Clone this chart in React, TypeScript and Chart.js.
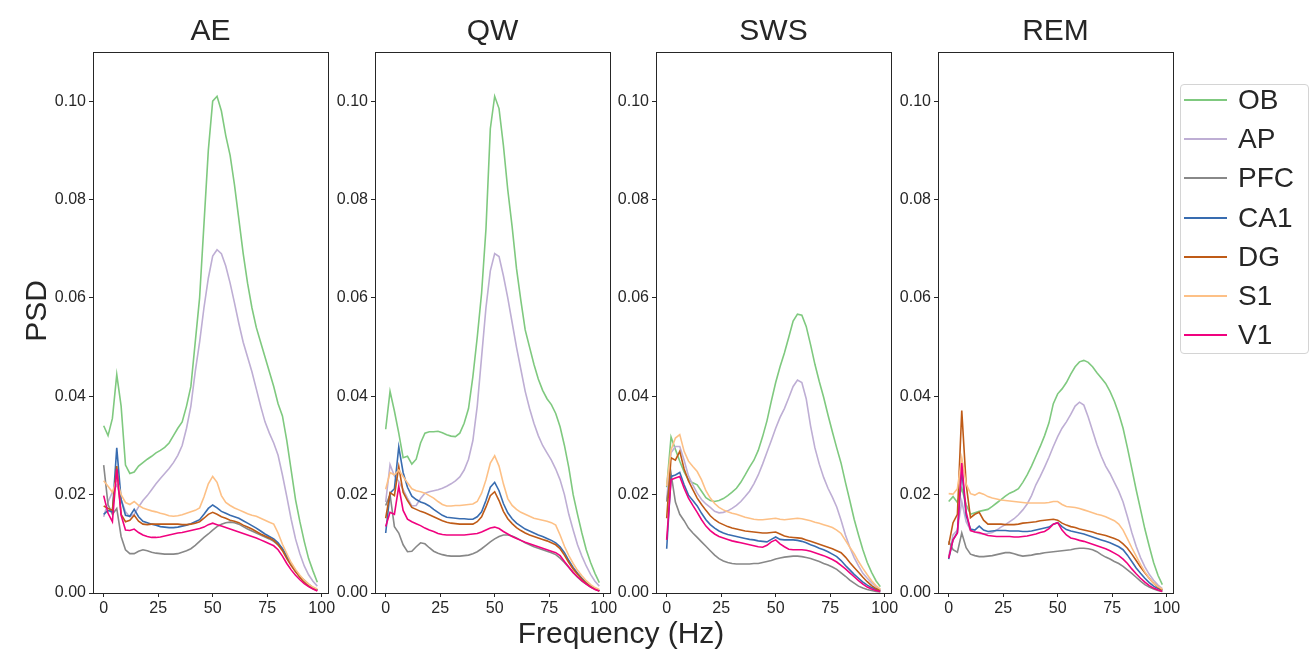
import React, { useEffect, useRef } from "react";
import { Chart, registerables } from "chart.js";

Chart.register(...registerables);

const FREQS = [0, 2, 4, 6, 8, 10, 12, 14, 16, 18, 20, 22, 24, 26, 28, 30, 32, 34, 36, 38, 40, 42, 44, 46, 48, 50, 52, 54, 56, 58, 60, 62, 64, 66, 68, 70, 72, 74, 76, 78, 80, 82, 84, 86, 88, 90, 92, 94, 96, 98];
const REGIONS = ["OB", "AP", "PFC", "CA1", "DG", "S1", "V1"];
const COLORS = ["#7fc97f", "#beaed4", "#888888", "#386cb0", "#bf5b17", "#fdc086", "#f0027f"];
const STATES = ["AE", "QW", "SWS", "REM"];
const X_TICKS = [0, 25, 50, 75, 100];
const Y_TICKS = [0, 0.02, 0.04, 0.06, 0.08, 0.1];

// ---- AE ----
const AE_OB = [0.034, 0.032, 0.0355, 0.0444, 0.038, 0.026, 0.0243, 0.0246, 0.0258, 0.0265, 0.0272, 0.0278, 0.0285, 0.029, 0.0296, 0.0305, 0.032, 0.0335, 0.0348, 0.038, 0.042, 0.051, 0.06, 0.075, 0.09, 0.1, 0.101, 0.098, 0.093, 0.089, 0.083, 0.076, 0.069, 0.063, 0.058, 0.054, 0.051, 0.048, 0.045, 0.042, 0.0385, 0.036, 0.031, 0.025, 0.019, 0.0145, 0.0105, 0.007, 0.0045, 0.0022];
const AE_AP = [0.0155, 0.0185, 0.0205, 0.022, 0.019, 0.0165, 0.0155, 0.016, 0.0175, 0.0188, 0.0198, 0.021, 0.0222, 0.0233, 0.0243, 0.0253, 0.0265, 0.028, 0.03, 0.0335, 0.038, 0.045, 0.051, 0.058, 0.064, 0.0685, 0.0698, 0.069, 0.0665, 0.063, 0.059, 0.0548, 0.051, 0.048, 0.045, 0.0415, 0.038, 0.0348, 0.0325, 0.0305, 0.028, 0.024, 0.0196, 0.015, 0.011, 0.008, 0.0055, 0.0037, 0.0024, 0.0014];
const AE_PFC = [0.026, 0.018, 0.016, 0.0172, 0.0115, 0.0088, 0.008, 0.008, 0.0085, 0.0088, 0.0086, 0.0083, 0.0081, 0.008, 0.0079, 0.0079, 0.0079, 0.008, 0.0083, 0.0086, 0.009, 0.0097, 0.0105, 0.0113, 0.012, 0.0128, 0.0135, 0.014, 0.0143, 0.0144, 0.0143, 0.014, 0.0135, 0.013, 0.0126, 0.0122, 0.0118, 0.0114, 0.011, 0.0105, 0.0098, 0.009, 0.0075, 0.0058, 0.0045, 0.0034, 0.0026, 0.0018, 0.0011, 0.0006];
const AE_CA1 = [0.016, 0.0168, 0.0165, 0.0295, 0.019, 0.0158, 0.0156, 0.017, 0.0155, 0.0146, 0.0143, 0.014, 0.0138, 0.0135, 0.0134, 0.0133, 0.0133, 0.0134, 0.0136, 0.0138, 0.0141, 0.0145, 0.0149, 0.016, 0.0172, 0.0179, 0.0173, 0.0166, 0.0162, 0.0158, 0.0155, 0.0152, 0.0147, 0.0142, 0.0137, 0.0132, 0.0126, 0.012, 0.0115, 0.011, 0.0102, 0.009, 0.0074, 0.006, 0.0045, 0.0033, 0.0023, 0.0015, 0.001, 0.0006];
const AE_DG = [0.0177, 0.0172, 0.0168, 0.0258, 0.016, 0.0145, 0.0148, 0.0158, 0.0146, 0.014, 0.0139, 0.014, 0.014, 0.014, 0.014, 0.014, 0.014, 0.014, 0.0139, 0.0139, 0.014, 0.0142, 0.0145, 0.0152, 0.016, 0.0164, 0.016, 0.0155, 0.0152, 0.0148, 0.0146, 0.0143, 0.0138, 0.0134, 0.013, 0.0125, 0.012, 0.0116, 0.0112, 0.0107, 0.0098, 0.0086, 0.007, 0.0056, 0.0043, 0.0032, 0.0022, 0.0014, 0.0009, 0.0005];
const AE_S1 = [0.0228, 0.0217, 0.0205, 0.0232, 0.02, 0.0184, 0.018, 0.0186, 0.0178, 0.0173, 0.017, 0.0167, 0.0165, 0.0162, 0.016, 0.0157, 0.0156, 0.0157, 0.0159, 0.0162, 0.0165, 0.0168, 0.0173, 0.0195, 0.0222, 0.0237, 0.0225, 0.0198, 0.0184, 0.0178, 0.0173, 0.0169, 0.0165, 0.0161, 0.0158, 0.0156, 0.0152, 0.0148, 0.0144, 0.014, 0.0122, 0.0099, 0.008, 0.0062, 0.0048, 0.0036, 0.0026, 0.0018, 0.0012, 0.0008];
const AE_V1 = [0.0198, 0.0162, 0.0145, 0.0252, 0.0158, 0.0128, 0.0127, 0.013, 0.0123, 0.0118, 0.0115, 0.0113, 0.0113, 0.0114, 0.0116, 0.0118, 0.012, 0.0122, 0.0123, 0.0125, 0.0127, 0.0129, 0.0131, 0.0134, 0.0139, 0.0142, 0.0139, 0.0136, 0.0133, 0.013, 0.0127, 0.0124, 0.0121, 0.0118, 0.0115, 0.0112, 0.0108, 0.0104, 0.01, 0.0096, 0.0088, 0.0075, 0.006, 0.0047, 0.0036, 0.0027, 0.0019, 0.0013, 0.0008, 0.0004];

// ---- QW ----
const QW_OB = [0.0333, 0.041, 0.037, 0.0325, 0.0275, 0.0278, 0.0262, 0.0272, 0.0305, 0.0325, 0.0328, 0.0328, 0.0329, 0.0326, 0.0322, 0.0319, 0.0318, 0.0325, 0.0345, 0.0375, 0.044, 0.052, 0.061, 0.074, 0.0944, 0.101, 0.0985, 0.091, 0.082, 0.0745, 0.066, 0.0595, 0.0535, 0.05, 0.0465, 0.0435, 0.0412, 0.0395, 0.0383, 0.0365, 0.0338, 0.03, 0.0255, 0.02, 0.016, 0.0122, 0.0088, 0.0062, 0.004, 0.0021];
const QW_AP = [0.0185, 0.0261, 0.0238, 0.0227, 0.021, 0.0193, 0.0177, 0.0178, 0.0192, 0.0203, 0.0206, 0.0208, 0.021, 0.0213, 0.0217, 0.0222, 0.0228, 0.0236, 0.025, 0.0272, 0.031, 0.038, 0.048, 0.058, 0.0655, 0.069, 0.0684, 0.0645, 0.06, 0.055, 0.05, 0.0455, 0.041, 0.0375, 0.0345, 0.032, 0.03, 0.0285, 0.027, 0.0252, 0.023, 0.02, 0.016, 0.0128, 0.0098, 0.0075, 0.0055, 0.0038, 0.0024, 0.0014];
const QW_PFC = [0.0178, 0.02, 0.0135, 0.0122, 0.0098, 0.0084, 0.0085, 0.0094, 0.0102, 0.01, 0.0092, 0.0085, 0.0081, 0.0078, 0.0076, 0.0075, 0.0075, 0.0075, 0.0076, 0.0077, 0.008, 0.0084, 0.009, 0.0097, 0.0104, 0.011, 0.0115, 0.0118, 0.0118, 0.0116, 0.0112, 0.0107, 0.0102, 0.0098, 0.0094, 0.0091, 0.0088, 0.0085, 0.0082, 0.0078, 0.0071, 0.0062, 0.0052, 0.0041, 0.0032, 0.0024, 0.0018, 0.0012, 0.0008, 0.0004];
const QW_CA1 = [0.0122, 0.0203, 0.0212, 0.0297, 0.0245, 0.0215, 0.0197, 0.019, 0.0185, 0.0182, 0.0177, 0.017, 0.0164, 0.0158, 0.0154, 0.0153, 0.0152, 0.0151, 0.0151, 0.015, 0.015, 0.0155, 0.0165, 0.0188, 0.0215, 0.0225, 0.0208, 0.0182, 0.0163, 0.0151, 0.0142, 0.0136, 0.013, 0.0126, 0.0122, 0.0118, 0.0115, 0.0111, 0.0107, 0.0102, 0.0094, 0.0082, 0.0066, 0.0052, 0.004, 0.003, 0.0021, 0.0014, 0.0009, 0.0005];
const QW_DG = [0.0152, 0.0204, 0.0198, 0.0257, 0.0205, 0.0188, 0.0174, 0.017, 0.0166, 0.0163, 0.0159, 0.0155, 0.0151, 0.0147, 0.0144, 0.0142, 0.0141, 0.014, 0.014, 0.014, 0.014, 0.0145, 0.0155, 0.0175, 0.0198, 0.0206, 0.0188, 0.0166, 0.0151, 0.0141, 0.0133, 0.0127, 0.0122, 0.0118, 0.0115, 0.0112, 0.0109, 0.0106, 0.0102, 0.0098, 0.009, 0.0077, 0.0062, 0.0049, 0.0038, 0.0028, 0.002, 0.0013, 0.0008, 0.0004];
const QW_S1 = [0.0211, 0.0245, 0.024, 0.025, 0.0237, 0.0224, 0.0212, 0.0208, 0.0206, 0.0203, 0.0198, 0.0193, 0.0186, 0.018, 0.0177, 0.0177, 0.0178, 0.0178, 0.0179, 0.018, 0.0181, 0.0186, 0.0203, 0.023, 0.0264, 0.0279, 0.0258, 0.0222, 0.0192, 0.0178, 0.017, 0.0164, 0.016, 0.0156, 0.0152, 0.015, 0.0148, 0.0146, 0.0143, 0.0138, 0.0118, 0.0095, 0.0076, 0.006, 0.0046, 0.0035, 0.0025, 0.0017, 0.0011, 0.0007];
const QW_V1 = [0.0135, 0.0164, 0.016, 0.0217, 0.0168, 0.015, 0.0145, 0.0141, 0.0137, 0.0132, 0.0128, 0.0125, 0.0121, 0.0119, 0.0118, 0.0118, 0.0118, 0.0118, 0.0118, 0.0119, 0.012, 0.0121, 0.0124, 0.0128, 0.0132, 0.0134, 0.0131, 0.0125, 0.012, 0.0115, 0.0111, 0.0107, 0.0103, 0.01, 0.0097, 0.0094, 0.0091, 0.0088, 0.0085, 0.0082, 0.0076, 0.0064, 0.0053, 0.0042, 0.0033, 0.0025, 0.0018, 0.0012, 0.0007, 0.0004];

// ---- SWS ----
const SWS_OB = [0.0215, 0.0317, 0.0292, 0.0268, 0.0246, 0.023, 0.0224, 0.022, 0.0207, 0.0194, 0.0188, 0.0186, 0.0188, 0.0192, 0.0198, 0.0205, 0.0213, 0.0225, 0.024, 0.0256, 0.027, 0.029, 0.0318, 0.035, 0.039, 0.0428, 0.046, 0.0488, 0.052, 0.0553, 0.0567, 0.0565, 0.0542, 0.0505, 0.0465, 0.043, 0.0398, 0.0362, 0.0328, 0.0295, 0.0264, 0.0225, 0.0188, 0.015, 0.0118, 0.0088, 0.0062, 0.0042, 0.0025, 0.0013];
const SWS_AP = [0.019, 0.0285, 0.0298, 0.0298, 0.027, 0.0238, 0.022, 0.0203, 0.019, 0.0181, 0.0174, 0.0166, 0.0163, 0.0164, 0.0167, 0.0172, 0.0178, 0.0186, 0.0196, 0.0207, 0.0222, 0.024, 0.0262, 0.0286, 0.031, 0.0335, 0.0357, 0.0375, 0.0397, 0.042, 0.0433, 0.0428, 0.0395, 0.034, 0.0295, 0.0262, 0.0235, 0.0213, 0.0195, 0.0175, 0.0148, 0.0118, 0.0093, 0.0072, 0.0055, 0.004, 0.003, 0.0021, 0.0013, 0.0007];
const SWS_PFC = [0.0186, 0.0243, 0.0185, 0.016, 0.0147, 0.0132, 0.0122, 0.0113, 0.0104, 0.0095, 0.0086, 0.0077, 0.007, 0.0065, 0.0062, 0.006, 0.0059, 0.0059, 0.0059, 0.0059, 0.006, 0.006, 0.0062, 0.0064, 0.0066, 0.0069, 0.0071, 0.0073, 0.0074, 0.0075, 0.0075, 0.0074, 0.0072, 0.007, 0.0067, 0.0064, 0.006, 0.0057, 0.0053, 0.0048, 0.0041, 0.0034, 0.0026, 0.002, 0.0014, 0.001, 0.0007, 0.0005, 0.0003, 0.0002];
const SWS_CA1 = [0.009, 0.0237, 0.024, 0.0245, 0.022, 0.0199, 0.0188, 0.0177, 0.0162, 0.0149, 0.0139, 0.0132, 0.0126, 0.0122, 0.0119, 0.0117, 0.0115, 0.0113, 0.0111, 0.0109, 0.0108, 0.0106, 0.0105, 0.0104, 0.0109, 0.0114, 0.0109, 0.0108, 0.0108, 0.0108, 0.0107, 0.0105, 0.0102, 0.0098, 0.0095, 0.0091, 0.0088, 0.0084, 0.0079, 0.0074, 0.0066, 0.0056, 0.0047, 0.0038, 0.003, 0.0022, 0.0016, 0.0011, 0.0007, 0.0004];
const SWS_DG = [0.0152, 0.0275, 0.027, 0.0288, 0.0252, 0.0228, 0.021, 0.0193, 0.018, 0.0168, 0.0157, 0.0149, 0.0143, 0.0139, 0.0135, 0.0132, 0.013, 0.0128, 0.0126, 0.0125, 0.0124, 0.0123, 0.0122, 0.0122, 0.0123, 0.0124, 0.012, 0.0116, 0.0114, 0.0113, 0.0112, 0.0111, 0.0108, 0.0105, 0.0102, 0.0099, 0.0096, 0.0093, 0.009, 0.0086, 0.0082, 0.0073, 0.0062, 0.0052, 0.0042, 0.0032, 0.0023, 0.0015, 0.0009, 0.0005];
const SWS_S1 = [0.0218, 0.0291, 0.0315, 0.0322, 0.0288, 0.0268, 0.0257, 0.0247, 0.023, 0.0208, 0.0193, 0.0182, 0.0174, 0.0169, 0.0165, 0.0162, 0.016, 0.0157, 0.0154, 0.0152, 0.015, 0.0149, 0.0149, 0.015, 0.0151, 0.0152, 0.015, 0.0149, 0.015, 0.0151, 0.0152, 0.0151, 0.0149, 0.0147, 0.0144, 0.0142, 0.0139, 0.0136, 0.0133, 0.0128, 0.0121, 0.0107, 0.0093, 0.008, 0.0064, 0.005, 0.0037, 0.0025, 0.0015, 0.0008];
const SWS_V1 = [0.0108, 0.023, 0.0234, 0.0237, 0.0213, 0.0193, 0.0178, 0.0164, 0.0149, 0.0136, 0.0127, 0.012, 0.0115, 0.0112, 0.0109, 0.0106, 0.0104, 0.0102, 0.01, 0.0098, 0.0096, 0.0094, 0.0093, 0.0097, 0.0104, 0.0108, 0.01, 0.0094, 0.0089, 0.0088, 0.0088, 0.0088, 0.0087, 0.0085, 0.0082, 0.0079, 0.0076, 0.0072, 0.0068, 0.0063, 0.0056, 0.0049, 0.0041, 0.0033, 0.0025, 0.0018, 0.0012, 0.0008, 0.0005, 0.0003];

// ---- REM ----
const REM_OB = [0.0186, 0.0196, 0.0184, 0.0213, 0.018, 0.016, 0.0163, 0.0166, 0.0168, 0.017, 0.0176, 0.0183, 0.019, 0.0197, 0.0203, 0.0207, 0.0212, 0.0225, 0.024, 0.0258, 0.0278, 0.0298, 0.032, 0.0346, 0.0385, 0.0405, 0.0415, 0.0428, 0.0445, 0.046, 0.047, 0.0473, 0.0469, 0.046, 0.0448, 0.0437, 0.0426, 0.041, 0.039, 0.0365, 0.0335, 0.0295, 0.0253, 0.021, 0.017, 0.013, 0.0095, 0.0062, 0.0036, 0.0017];
const REM_AP = [0.0074, 0.0118, 0.0128, 0.0186, 0.0145, 0.0128, 0.0124, 0.0121, 0.012, 0.0121, 0.0123, 0.0128, 0.0134, 0.0139, 0.0145, 0.0151, 0.0159, 0.0169, 0.0181, 0.0198, 0.022, 0.0237, 0.0256, 0.0276, 0.0298, 0.0318, 0.0335, 0.0348, 0.0363, 0.038, 0.0388, 0.0382, 0.0358, 0.033, 0.0302, 0.0278, 0.0258, 0.0243, 0.0225, 0.0207, 0.0185, 0.0155, 0.0123, 0.0095, 0.0072, 0.0053, 0.0038, 0.0026, 0.0016, 0.0009];
const REM_PFC = [0.0105, 0.0088, 0.0083, 0.0122, 0.0092, 0.0079, 0.0076, 0.0074, 0.0074, 0.0075, 0.0076, 0.0078, 0.008, 0.0082, 0.0082, 0.008, 0.0077, 0.0075, 0.0076, 0.0077, 0.0079, 0.008, 0.0082, 0.0083, 0.0084, 0.0085, 0.0086, 0.0087, 0.0088, 0.009, 0.0091, 0.0091, 0.009, 0.0088, 0.0084, 0.0078, 0.0073, 0.0069, 0.0064, 0.006, 0.0054, 0.0047, 0.004, 0.0032, 0.0024, 0.0017, 0.0012, 0.0008, 0.0005, 0.0003];
const REM_CA1 = [0.0069, 0.0108, 0.0123, 0.0252, 0.0158, 0.013, 0.0128, 0.0136, 0.0128, 0.0125, 0.0126, 0.0127, 0.0127, 0.0127, 0.0126, 0.0126, 0.0126, 0.0125, 0.0125, 0.0126, 0.0128, 0.013, 0.0132, 0.0134, 0.014, 0.0143, 0.0135, 0.0129, 0.0126, 0.0124, 0.0122, 0.012, 0.0117, 0.0114, 0.0111, 0.0108, 0.0105, 0.0102, 0.0098, 0.0094, 0.0088, 0.0077, 0.0064, 0.0051, 0.004, 0.003, 0.0021, 0.0014, 0.0009, 0.0005];
const REM_DG = [0.0098, 0.0143, 0.016, 0.0371, 0.0222, 0.0153, 0.016, 0.0164, 0.0148, 0.014, 0.014, 0.014, 0.014, 0.0139, 0.0139, 0.0139, 0.014, 0.0142, 0.0143, 0.0144, 0.0145, 0.0147, 0.0148, 0.0149, 0.015, 0.0148, 0.0142, 0.0138, 0.0135, 0.0133, 0.013, 0.0128, 0.0126, 0.0124, 0.0121, 0.0119, 0.0117, 0.0114, 0.0111, 0.0107, 0.01, 0.0091, 0.0079, 0.0066, 0.0053, 0.0041, 0.003, 0.002, 0.0012, 0.0006];
const REM_S1 = [0.0202, 0.0201, 0.0212, 0.0275, 0.0222, 0.0202, 0.0199, 0.0204, 0.0201, 0.0196, 0.0193, 0.0191, 0.0189, 0.0188, 0.0187, 0.0186, 0.0185, 0.0184, 0.0183, 0.0183, 0.0183, 0.0183, 0.0183, 0.0184, 0.0186, 0.0186, 0.018, 0.0176, 0.0175, 0.0174, 0.0172, 0.0169, 0.0166, 0.0163, 0.016, 0.0158, 0.0155, 0.0151, 0.0147, 0.014, 0.0128, 0.011, 0.0092, 0.0075, 0.0058, 0.0043, 0.003, 0.002, 0.0013, 0.0008];
const REM_V1 = [0.0071, 0.0108, 0.0122, 0.0264, 0.0165, 0.0127, 0.0124, 0.0123, 0.012, 0.0117, 0.0116, 0.0115, 0.0115, 0.0115, 0.0115, 0.0114, 0.0114, 0.0115, 0.0116, 0.0118, 0.012, 0.0123, 0.0125, 0.0131, 0.014, 0.0143, 0.0128, 0.0118, 0.0112, 0.011, 0.0107, 0.0105, 0.0102, 0.0099, 0.0096, 0.0093, 0.009, 0.0086, 0.0081, 0.0076, 0.0069, 0.006, 0.0049, 0.0039, 0.003, 0.0022, 0.0015, 0.001, 0.0006, 0.0003];

const PANEL_SERIES = [
  [AE_OB, AE_AP, AE_PFC, AE_CA1, AE_DG, AE_S1, AE_V1],
  [QW_OB, QW_AP, QW_PFC, QW_CA1, QW_DG, QW_S1, QW_V1],
  [SWS_OB, SWS_AP, SWS_PFC, SWS_CA1, SWS_DG, SWS_S1, SWS_V1],
  [REM_OB, REM_AP, REM_PFC, REM_CA1, REM_DG, REM_S1, REM_V1],
];

const FONT = "'Liberation Sans', Arial, sans-serif";
const INK = "#262626";
const PANEL_LEFTS = [93, 375, 656, 938];
const PANEL_W = 235;
const AXIS_W = 60;
const RIGHT_PAD = 12;
const CANVAS_H = 653;
const PLOT_TOP = 52;
const PLOT_BOTTOM = 593;

const framePlugin = {
  id: "frame",
  afterDraw(chart: any) {
    const { ctx, chartArea } = chart;
    ctx.save();
    ctx.strokeStyle = INK;
    ctx.lineWidth = 1;
    ctx.strokeRect(
      Math.round(chartArea.left) + 0.5,
      Math.round(chartArea.top) + 0.5,
      Math.round(chartArea.right - chartArea.left),
      Math.round(chartArea.bottom - chartArea.top)
    );
    ctx.restore();
  },
};

function Panel({ index }: { index: number }) {
  const ref = useRef<HTMLCanvasElement | null>(null);
  useEffect(() => {
    if (!ref.current) return;
    const series = PANEL_SERIES[index];
    const chart = new Chart(ref.current, {
      type: "line",
      data: {
        datasets: series.map((vals, i) => ({
          label: REGIONS[i],
          data: FREQS.map((f, j) => ({ x: f, y: vals[j] })),
          borderColor: COLORS[i],
          backgroundColor: COLORS[i],
          borderWidth: 1.6,
          pointRadius: 0,
          fill: false,
          tension: 0,
          order: REGIONS.length - i,
        })),
      },
      options: {
        responsive: false,
        animation: false,
        events: [],
        layout: { padding: { top: PLOT_TOP, right: RIGHT_PAD, left: 0, bottom: 0 } },
        plugins: {
          legend: { display: false },
          tooltip: { enabled: false },
          title: { display: false },
        },
        scales: {
          x: {
            type: "linear",
            min: -4.9,
            max: 102.9,
            afterBuildTicks: (s: any) => {
              s.ticks = X_TICKS.map((v) => ({ value: v }));
            },
            afterFit: (s: any) => {
              s.height = CANVAS_H - PLOT_BOTTOM;
            },
            ticks: {
              autoSkip: false,
              maxRotation: 0,
              padding: 2,
              color: INK,
              font: { family: FONT, size: 16 },
              callback: (v: any) => String(v),
            },
            grid: { drawOnChartArea: false, drawTicks: true, tickLength: 4, color: INK },
            border: { display: true, color: INK },
          },
          y: {
            type: "linear",
            min: 0,
            max: 0.11,
            afterBuildTicks: (s: any) => {
              s.ticks = Y_TICKS.map((v) => ({ value: v }));
            },
            afterFit: (s: any) => {
              s.width = AXIS_W;
            },
            ticks: {
              autoSkip: false,
              padding: 3,
              color: INK,
              font: { family: FONT, size: 16 },
              callback: (v: any) => Number(v).toFixed(2),
            },
            grid: { drawOnChartArea: false, drawTicks: true, tickLength: 4, color: INK },
            border: { display: true, color: INK },
          },
        },
      } as any,
      plugins: [framePlugin],
    });
    return () => chart.destroy();
  }, [index]);

  const left = PANEL_LEFTS[index] - AXIS_W;
  const w = AXIS_W + PANEL_W + RIGHT_PAD;
  return (
    <>
      <canvas
        ref={ref}
        width={w}
        height={CANVAS_H}
        style={{ position: "absolute", left, top: 0, width: w, height: CANVAS_H }}
      />
      <div
        style={{
          position: "absolute",
          left: PANEL_LEFTS[index],
          width: PANEL_W,
          top: 14.5,
          textAlign: "center",
          fontFamily: FONT,
          fontSize: 30,
          lineHeight: "30px",
          color: INK,
        }}
      >
        {STATES[index]}
      </div>
    </>
  );
}

export default function App() {
  return (
    <div
      style={{
        position: "absolute",
        left: 0,
        top: 0,
        width: 1315,
        height: 653,
        background: "#ffffff",
        overflow: "hidden",
        fontFamily: FONT,
      }}
    >
      {STATES.map((_, i) => (
        <Panel key={i} index={i} />
      ))}
      <div
        style={{
          position: "absolute",
          left: 36 - 60,
          top: 311 - 15,
          width: 120,
          height: 30,
          lineHeight: "30px",
          fontSize: 30,
          textAlign: "center",
          color: INK,
          transform: "rotate(-90deg)",
        }}
      >
        PSD
      </div>
      <div
        style={{
          position: "absolute",
          left: 421,
          width: 400,
          top: 618,
          lineHeight: "30px",
          fontSize: 30,
          textAlign: "center",
          color: INK,
        }}
      >
        Frequency (Hz)
      </div>
      <div
        style={{
          position: "absolute",
          left: 1180,
          top: 84,
          width: 129,
          height: 270,
          border: "1px solid #d4d4d4",
          borderRadius: 4,
          background: "rgba(255,255,255,0.8)",
          boxSizing: "border-box",
        }}
      />
      {REGIONS.map((r, i) => (
        <div
          key={r}
          style={{
            position: "absolute",
            left: 1184,
            top: 100 + i * 39.2 - 14,
            height: 28,
            display: "flex",
            alignItems: "center",
          }}
        >
          <div style={{ width: 43, height: 2, background: COLORS[i] }} />
          <div style={{ marginLeft: 11, fontSize: 28, lineHeight: "28px", color: INK }}>{r}</div>
        </div>
      ))}
    </div>
  );
}
